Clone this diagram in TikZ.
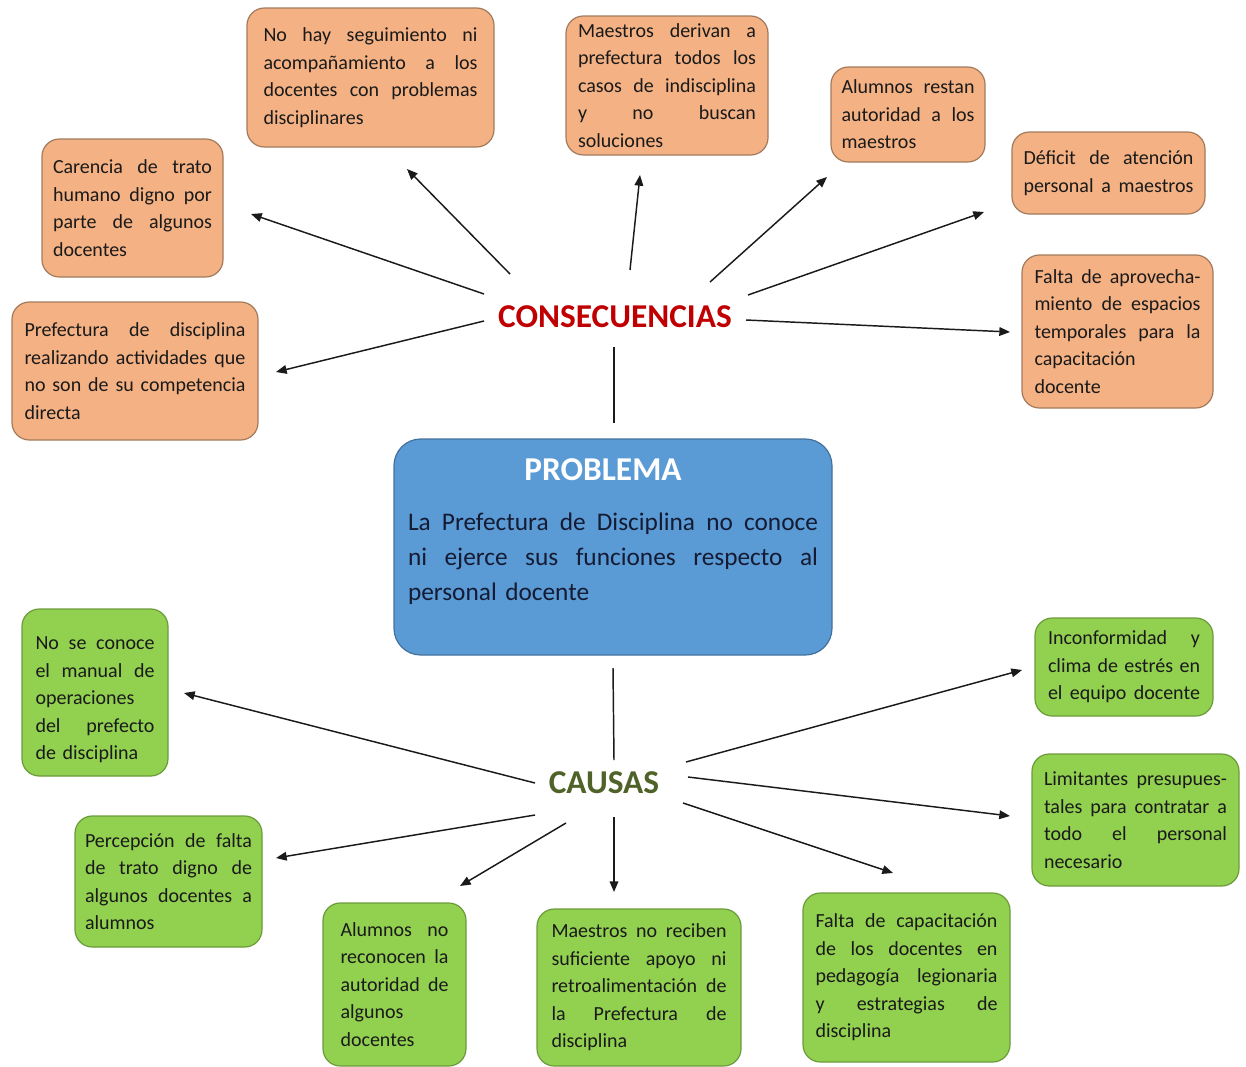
\documentclass[tikz,border=0pt]{standalone}
\usepackage{fontspec}
\setmainfont{Carlito}
\usetikzlibrary{arrows.meta}
\definecolor{ofill}{HTML}{F4B183}
\definecolor{odraw}{HTML}{A27B5C}
\definecolor{gfill}{HTML}{92D050}
\definecolor{gdraw}{HTML}{6B9B3A}
\definecolor{bfill}{HTML}{5B9BD5}
\definecolor{bdraw}{HTML}{41719C}
\definecolor{cred}{HTML}{C00000}
\definecolor{cgreen}{HTML}{4F6228}
\definecolor{txt}{HTML}{1A1A1A}
\definecolor{probtxt}{HTML}{141B33}
\newcommand\jl[1]{\makebox[\hsize][s]{\spaceskip=0pt\relax\xspaceskip=0pt\relax #1}}
\begin{document}
\begin{tikzpicture}[x=0.75pt,y=-0.75pt,
 box/.style={rectangle, rounded corners=13pt, line width=0.9pt, align=left, inner sep=0pt, text=txt, font=\fontsize{15}{20.6}\selectfont},
 obox/.style={box, fill=ofill, draw=odraw},
 gbox/.style={box, fill=gfill, draw=gdraw},
 head/.style={font=\fontsize{25}{30}\selectfont\bfseries, inner sep=0pt},
 arr/.style={line width=1.1pt, draw=txt, -{Triangle[length=8pt,width=6.5pt]}},
 link/.style={line width=1.1pt, draw=txt}]
\useasboundingbox (0,0) rectangle (1246,1067);

% ---------- consequences ----------
\node[obox, minimum width=185.25pt, minimum height=104.25pt, text width=160.5pt] (c1) at (370.5,77.5)
 {\jl{No hay seguimiento ni}\\ \jl{acompañamiento a los}\\ \jl{docentes con problemas}\\ disciplinares};
\node[obox, minimum width=135.75pt, minimum height=103.5pt, text width=119.25pt] (c2) at (132.5,208)
 {\jl{Carencia de trato}\\ \jl{humano digno por}\\ \jl{parte de algunos}\\ docentes};
\node[obox, minimum width=184.5pt, minimum height=103.5pt, text width=165.75pt] (c3) at (135,371)
 {\jl{Prefectura de disciplina}\\ \jl{realizando actividades que}\\ \jl{no son de su competencia}\\ directa};
\node[obox, minimum width=151.5pt, minimum height=104.25pt, text width=133.5pt] (c4) at (667,85.5)
 {\jl{Maestros derivan a}\\ \jl{prefectura todos los}\\ \jl{casos de indisciplina}\\ \jl{y no buscan}\\ soluciones};
\node[obox, minimum width=115.5pt, minimum height=71.25pt, text width=99.75pt] (c5) at (908,114.5)
 {\jl{Alumnos restan}\\ \jl{autoridad a los}\\ maestros};
\node[obox, minimum width=144.75pt, minimum height=61.5pt, text width=127.5pt] (c6) at (1108.5,173)
 {\jl{Déficit de atención}\\ \jl{personal a maestros}};
\node[obox, minimum width=143.25pt, minimum height=114.75pt, text width=124.5pt] (c7) at (1117.5,331.5)
 {\jl{Falta de aprovecha-}\\ \jl{miento de espacios}\\ \jl{temporales para la}\\ capacitación\\ docente};

\node[head, text=cred] (cons) at (615,317) {CONSECUENCIAS};

% ---------- problem ----------
\node[rectangle, rounded corners=20pt, fill=bfill, draw=bdraw, line width=0.9pt,
 minimum width=328.5pt, minimum height=162pt, text width=307.5pt, inner sep=0pt,
 align=left, text=probtxt, font=\fontsize{19}{26}\selectfont] (prob) at (613,547)
 {\makebox[\hsize]{\fontsize{25}{30}\selectfont\bfseries\color{white}PROBLEMA\hspace{15pt}}\\[12pt]
  \jl{La Prefectura de Disciplina no conoce}\\
  \jl{ni ejerce sus funciones respecto al}\\
  personal docente\rule[-26.5pt]{0pt}{1pt}};

% ---------- causes ----------
\node[head, text=cgreen] (caus) at (604,783) {CAUSAS};

\node[gbox, minimum width=109.5pt, minimum height=125.25pt, text width=89.25pt] (g1) at (95,692.5)
 {\rule{0pt}{21pt}\jl{No se conoce}\\ \jl{el manual de}\\ operaciones\\ \jl{del prefecto}\\ de disciplina};
\node[gbox, minimum width=140.25pt, minimum height=98.25pt, text width=125.25pt] (g2) at (168.5,881.5)
 {\jl{Percepción de falta}\\ \jl{de trato digno de}\\ \jl{algunos docentes a}\\ alumnos};
\node[gbox, minimum width=107.25pt, minimum height=122.25pt, text width=81pt] (g3) at (394.5,984.5)
 {\jl{Alumnos no}\\ \jl{reconocen la}\\ \jl{autoridad de}\\ algunos\\ docentes};
\node[gbox, minimum width=153pt, minimum height=117.75pt, text width=131.25pt] (g4) at (639,987.5)
 {\jl{Maestros no reciben}\\ \jl{suficiente apoyo ni}\\ \jl{retroalimentación de}\\ \jl{la Prefectura de}\\ disciplina};
\node[gbox, minimum width=155.25pt, minimum height=126.75pt, text width=136.5pt] (g5) at (906.5,977.5)
 {\jl{Falta de capacitación}\\ \jl{de los docentes en}\\ \jl{pedagogía legionaria}\\ \jl{y estrategias de}\\ disciplina};
\node[gbox, minimum width=133.5pt, minimum height=73.5pt, text width=114pt] (g6) at (1124,667)
 {\jl{Inconformidad y}\\ \jl{clima de estrés en}\\ \jl{el equipo docente}};
\node[gbox, minimum width=155.25pt, minimum height=99pt, text width=137.25pt] (g7) at (1135.5,820)
 {\jl{Limitantes presupues-}\\ \jl{tales para contratar a}\\ \jl{todo el personal}\\ necesario};

% ---------- connector ends ----------
\coordinate (a1s) at (510,274); \coordinate (a1e) at (407,169);
\coordinate (a2s) at (484,294); \coordinate (a2e) at (251,214);
\coordinate (a3s) at (484,321); \coordinate (a3e) at (276,372);
\coordinate (a4s) at (630,270); \coordinate (a4e) at (640,175);
\coordinate (a5s) at (710,282); \coordinate (a5e) at (827,177);
\coordinate (a6s) at (748,295); \coordinate (a6e) at (984,212);
\coordinate (a7s) at (746,320); \coordinate (a7e) at (1010,332);
\coordinate (l1s) at (614,347); \coordinate (l1e) at (614,423);
\coordinate (l2s) at (613,668); \coordinate (l2e) at (614,760);
\coordinate (b1s) at (535,783); \coordinate (b1e) at (184,693);
\coordinate (b2s) at (535,815); \coordinate (b2e) at (276,858);
\coordinate (b3s) at (566,823); \coordinate (b3e) at (460,886);
\coordinate (b4s) at (614,817); \coordinate (b4e) at (614,892);
\coordinate (b5s) at (683,803); \coordinate (b5e) at (893,873);
\coordinate (b6s) at (686,762); \coordinate (b6e) at (1022,670);
\coordinate (b7s) at (688,777); \coordinate (b7e) at (1010,816);

\foreach \k in {1,...,7} {\draw[arr] (a\k s) -- (a\k e);}
\foreach \k in {1,...,7} {\draw[arr] (b\k s) -- (b\k e);}
\draw[link] (l1s) -- (l1e);
\draw[link] (l2s) -- (l2e);
\end{tikzpicture}
\end{document}
